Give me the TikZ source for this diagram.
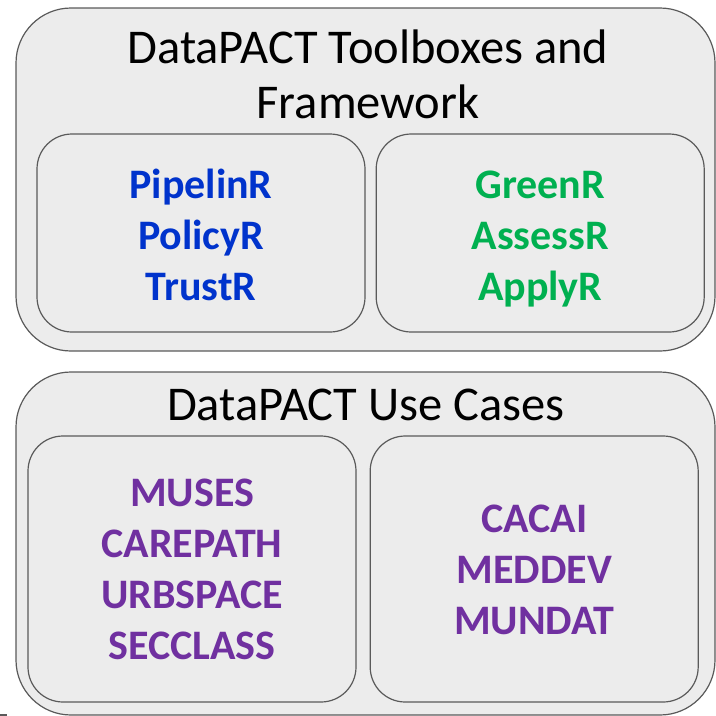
\documentclass[tikz,border=0pt]{standalone}
\usepackage{fontspec}
\setmainfont{Carlito}
\usepackage{tikz}
\usetikzlibrary{positioning}
\definecolor{boxfill}{HTML}{ECECEC}
\definecolor{boxline}{HTML}{5A5A5A}
\definecolor{toolblue}{HTML}{0033CC}
\definecolor{toolgreen}{HTML}{00B050}
\definecolor{casepurple}{HTML}{7030A0}
\tikzset{
    outerbox/.style={
           draw=boxline, line width=1.2pt,
           fill=boxfill,
           rounded corners=55pt,
           inner sep=0pt,
           minimum width=699pt, minimum height=343pt,
           },
}
\tikzset{
    innerbox/.style={
           draw=boxline, line width=1.2pt,
           fill=boxfill,
           rounded corners=35pt,
           inner sep=0pt,
           minimum width=328pt,
           },
}
\tikzset{
    names/.style={
           align=center,
           inner sep=0pt,
           font=\fontsize{42}{51}\selectfont\bfseries,
           },
}
\tikzset{
    title/.style={
           align=center,
           inner sep=0pt,
           font=\fontsize{48.5}{55}\selectfont,
           },
}

\begin{document}
\begin{tikzpicture}[x=1pt,y=-1pt]
\useasboundingbox (0,0) rectangle (716,716);
% toolboxes
\node[outerbox](tools) at (365.5,179.5){};
\node[title](toolstitle) at (368,74){DataPACT Toolboxes and\\Framework};
\node[innerbox,minimum height=198pt](blue) at (201,233){};
\node[innerbox,minimum height=198pt,right=10pt of blue](green){};
\node[names,text=toolblue](bluenames) at ([yshift=-6pt]blue.center){PipelinR\strut\\PolicyR\\TrustR\strut};
\node[names,text=toolgreen](greennames) at ([yshift=-6pt]green.center){GreenR\strut\\AssessR\\ApplyR\strut};
% use cases
\node[outerbox](cases) at (365.5,543.5){};
\node[title](casestitle) at (366,405){DataPACT Use Cases};
\node[innerbox,minimum height=266pt](caseleft) at (192,569){};
\node[innerbox,minimum height=266pt,right=13pt of caseleft](caseright){};
\node[names,text=casepurple](leftnames) at ([yshift=-4pt]caseleft.center){MUSES\strut\\CAREPATH\\URBSPACE\\SECCLASS\strut};
\node[names,text=casepurple](rightnames) at ([yshift=-4pt]caseright.center){CACAI\strut\\MEDDEV\\MUNDAT\strut};
% stray rule
\coordinate (s0) at (0,715);
\coordinate (s1) at (7,715);
\draw[boxline,line width=1.2pt] (s0) -- (s1);
\end{tikzpicture}
\end{document}
